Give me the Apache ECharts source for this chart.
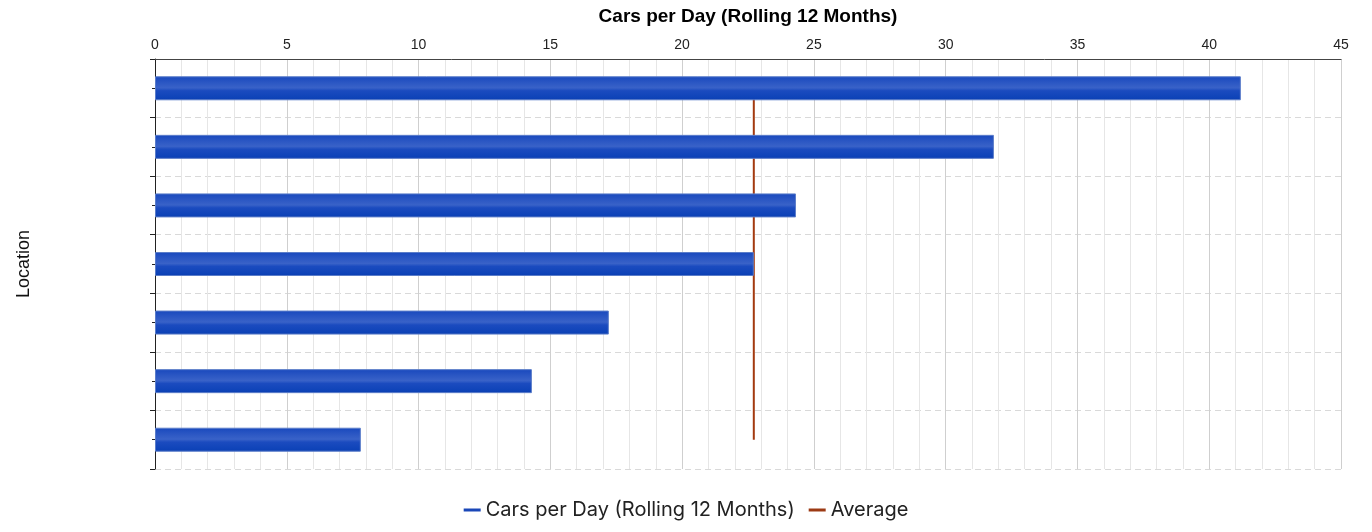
<!DOCTYPE html>
<html>
<head>
<meta charset="utf-8">
<script src="https://cdn.jsdelivr.net/npm/echarts@6/dist/echarts.min.js"></script>
<style>
html,body{margin:0;padding:0;background:#fff;}
#chart{width:1372px;height:532px;}
</style>
</head>
<body>
<div id="chart"></div>
<script>
const locations = ['Location 1','Location 2','Location 3','Location 4','Location 5','Location 6','Location 7'];
const carsPerDay = [41.2, 31.83, 24.32, 22.72, 17.22, 14.3, 7.81];
const averageValues = [22.72, 22.72, 22.72, 22.72, 22.72, 22.72, 22.72];
const xTicks = {min: 0, max: 45, interval: 5};

const ARIAL = 'Liberation Sans, Arial, sans-serif';
const chart = echarts.init(document.getElementById('chart'));
const barGradient = new echarts.graphic.LinearGradient(0, 0, 0, 1, [
  {offset: 0, color: '#1848bd'},
  {offset: 0.25, color: '#2a56c3'},
  {offset: 0.48, color: '#3962c8'},
  {offset: 0.6, color: '#1b4bbf'},
  {offset: 0.9, color: '#0e43b8'},
  {offset: 1, color: '#0b3cae'}
]);
chart.setOption({
  animation: false,
  textStyle: {fontFamily: ARIAL},
  grid: {left: 155, right: 31, top: 59, bottom: 63, containLabel: false},
  legend: {
    bottom: 7,
    left: 'center',
    icon: 'rect',
    itemWidth: 17,
    itemHeight: 3,
    itemGap: 14,
    textStyle: {fontFamily: 'Inter, sans-serif', fontSize: 20, color: '#222'},
    data: [
      {name: 'Cars per Day (Rolling 12 Months)', itemStyle: {color: '#1a47b8', borderWidth: 0}},
      {name: 'Average', itemStyle: {color: '#9c3a14'}}
    ]
  },
  xAxis: {
    type: 'value',
    position: 'top',
    min: xTicks.min, max: xTicks.max, interval: xTicks.interval,
    name: 'Cars per Day (Rolling 12 Months)',
    nameLocation: 'middle',
    nameGap: 33,
    nameTextStyle: {fontWeight: 'bold', fontSize: 19, color: '#000', fontFamily: ARIAL},
    axisLine: {show: true, lineStyle: {color: '#444', width: 1}},
    axisTick: {show: false},
    axisLabel: {fontSize: 14, color: '#222', margin: 7, fontFamily: ARIAL},
    splitLine: {show: true, lineStyle: {color: '#cfcfcf', width: 1}},
    minorTick: {show: false, splitNumber: 5},
    minorSplitLine: {show: true, lineStyle: {color: '#e6e6e6', width: 1}}
  },
  yAxis: [{
    type: 'category',
    inverse: true,
    data: locations,
    name: 'Location',
    nameLocation: 'middle',
    nameRotate: 90,
    nameGap: 122,
    nameTextStyle: {fontSize: 18, color: '#111', fontFamily: ARIAL},
    axisLine: {show: true, lineStyle: {color: '#222', width: 1}},
    axisTick: {show: true, length: 5, lineStyle: {color: '#222'}},
    axisLabel: {show: false},
    splitLine: {show: true, lineStyle: {color: '#d9d9d9', type: [6, 4]}}
  }, {
    type: 'category',
    inverse: true,
    position: 'left',
    data: locations,
    axisLine: {show: false},
    axisTick: {show: true, alignWithLabel: true, length: 3, lineStyle: {color: '#222'}},
    axisLabel: {show: false},
    splitLine: {show: false}
  }],
  series: [{
    name: 'Average',
    type: 'line',
    data: averageValues,
    symbol: 'none',
    z: 1,
    lineStyle: {color: '#a33a10', width: 2},
    itemStyle: {color: '#9c3a14'}
  }, {
    name: 'Cars per Day (Rolling 12 Months)',
    type: 'bar',
    data: carsPerDay,
    barWidth: 24,
    z: 2,
    itemStyle: {color: barGradient, borderColor: '#5b7dc9', borderWidth: 1},
    color: '#1a47b8'
  }]
});
</script>
</body>
</html>
